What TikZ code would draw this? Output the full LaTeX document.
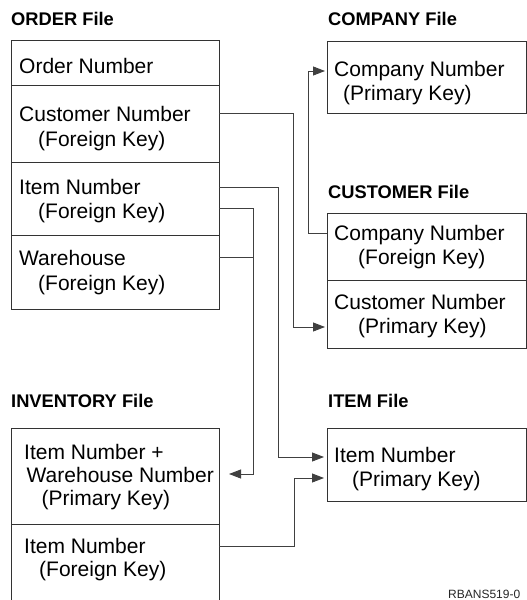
\documentclass[tikz,border=0pt]{standalone}
\usepackage{fontspec}
\setmainfont{Liberation Sans}
\usetikzlibrary{arrows.meta}
\begin{document}
\begin{tikzpicture}[x=1pt,y=-1pt,
  rowbox/.style={draw=black!80, line width=0.9pt, inner sep=0pt, outer sep=0pt, rectangle},
  wideA/.style={rowbox, minimum width=208pt},
  wideB/.style={rowbox, minimum width=199pt},
  txt/.style={anchor=base west, inner sep=0pt, font=\fontsize{21}{24}\selectfont, text=black},
  ttl/.style={anchor=base west, inner sep=0pt, font=\bfseries\fontsize{18.3}{20}\selectfont, text=black},
  conn/.style={draw=black!75, line width=0.9pt},
  arr/.style={conn, -{Triangle[length=12pt,width=9pt]}}]
\useasboundingbox (0,0) rectangle (527,600);

% ORDER file
\node[ttl] (tOrder) at (11,25) {ORDER File};
\node[wideA, minimum height=45pt] (oNum) at (115,62.5) {};
\node[wideA, minimum height=77pt] (oCust) at (115,123.5) {};
\node[wideA, minimum height=73pt] (oItem) at (115,198.5) {};
\node[wideA, minimum height=74pt] (oWh) at (115,272) {};
\node[txt] (oNumT) at (19,73) {Order Number};
\node[txt] (oCustT1) at (19,121) {Customer Number};
\node[txt] (oCustT2) at (38,146) {(Foreign Key)};
\node[txt] (oItemT1) at (19,194) {Item Number};
\node[txt] (oItemT2) at (38,218) {(Foreign Key)};
\node[txt] (oWhT1) at (19,265) {Warehouse};
\node[txt] (oWhT2) at (38,290) {(Foreign Key)};

% COMPANY file
\node[ttl] (tComp) at (328,25) {COMPANY File};
\node[wideB, minimum height=72pt] (cNum) at (426.5,77) {};
\node[txt] (cNumT1) at (334,76) {Company Number};
\node[txt] (cNumT2) at (343,100) {(Primary Key)};

% CUSTOMER file
\node[ttl] (tCust) at (328,198) {CUSTOMER File};
\node[wideB, minimum height=67pt] (uComp) at (426.5,246.5) {};
\node[wideB, minimum height=68pt] (uCust) at (426.5,314) {};
\node[txt] (uCompT1) at (334,240) {Company Number};
\node[txt] (uCompT2) at (358,264) {(Foreign Key)};
\node[txt] (uCustT1) at (334,309) {Customer Number};
\node[txt] (uCustT2) at (358,333) {(Primary Key)};

% INVENTORY file
\node[ttl] (tInv) at (11,407) {INVENTORY File};
\node[wideA, minimum height=96pt] (iKey) at (115,476) {};
\node[wideA, minimum height=86pt] (iItem) at (115,567) {};
\node[txt] (iKeyT1) at (24,459) {Item Number +};
\node[txt] (iKeyT2) at (26.5,482) {Warehouse Number};
\node[txt] (iKeyT3) at (41.5,505) {(Primary Key)};
\node[txt] (iItemT1) at (24,553) {Item Number};
\node[txt] (iItemT2) at (39,576) {(Foreign Key)};

% ITEM file
\node[ttl] (tItem) at (328,407) {ITEM File};
\node[wideB, minimum height=73pt] (mItem) at (426.5,464.5) {};
\node[txt] (mItemT1) at (334,462) {Item Number};
\node[txt] (mItemT2) at (352,486) {(Primary Key)};

% footer
\node[anchor=base west, inner sep=0pt, font=\fontsize{12}{14}\selectfont, text=black!85] (code) at (448,598) {RBANS519-0};

% connector end points
\coordinate (pOC) at (oCust.east |- 0,113);
\coordinate (pCP) at (325,327);
\coordinate (pOI) at (oItem.east |- 0,187);
\coordinate (pMI1) at (324,457);
\coordinate (pOI2) at (oItem.east |- 0,208);
\coordinate (pIK) at (229,474);
\coordinate (pOW) at (oWh.east |- 0,257);
\coordinate (pUC) at (uComp.west |- 0,233);
\coordinate (pCN) at (325,71);
\coordinate (pII) at (iItem.east |- 0,546);
\coordinate (pMI2) at (324,478);

% connectors
\draw[arr] (pOC) -- (293,113) -- (293,327) -- (pCP);
\draw[arr] (pOI) -- (278,187) -- (278,457) -- (pMI1);
\draw[arr] (pOI2) -- (253,208) -- (253,474) -- (pIK);
\draw[conn] (pOW) -- (253,257);
\draw[arr] (pUC) -- (308,233) -- (308,71) -- (pCN);
\draw[arr] (pII) -- (294,546) -- (294,478) -- (pMI2);
\end{tikzpicture}
\end{document}
